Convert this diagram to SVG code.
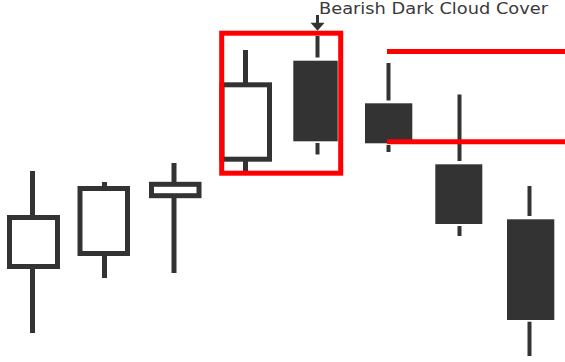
<svg xmlns="http://www.w3.org/2000/svg" width="565" height="362" viewBox="0 0 565 362">
<style>
.w{stroke:#333;stroke-width:5;stroke-linecap:butt;fill:none}
.dw{stroke:#333;stroke-width:4;stroke-linecap:butt;fill:none}
.ob{fill:#fff;stroke:#333;stroke-width:5}
.fb{fill:#333}
.red{stroke:#ff0000;stroke-width:5;fill:none}
.lbl{font-family:"DejaVu Sans",Verdana,sans-serif;font-size:15px;fill:#3a3a3a}
</style>
<rect width="565" height="362" fill="#fff"/>
<g id="candle1">
<line class="w" x1="32.5" y1="171" x2="32.5" y2="333"/>
<rect class="ob" x="9.5" y="217.5" width="48" height="49"/>
</g>
<g id="candle2">
<line class="w" x1="104.5" y1="182" x2="104.5" y2="278"/>
<rect class="ob" x="80" y="188.5" width="47.5" height="65"/>
</g>
<g id="candle3">
<line class="w" x1="174" y1="163" x2="174" y2="273"/>
<rect class="ob" x="151.5" y="184.3" width="47.5" height="11.4"/>
</g>
<g id="candle4">
<line class="w" x1="245.5" y1="50" x2="245.5" y2="171"/>
<rect class="ob" x="222" y="84.8" width="47.5" height="74.4"/>
</g>
<g id="candle5">
<line class="dw" x1="317.5" y1="36" x2="317.5" y2="57.5"/>
<line class="dw" x1="317.5" y1="143" x2="317.5" y2="154.5"/>
<rect class="fb" x="293.3" y="60.7" width="44.4" height="80.6"/>
</g>
<g id="candle6">
<line class="dw" x1="388.5" y1="63" x2="388.5" y2="100.5"/>
<line class="dw" x1="388.5" y1="145" x2="388.5" y2="152"/>
<rect class="fb" x="365" y="103.3" width="47.3" height="40"/>
</g>
<g id="candle7">
<line class="dw" x1="459.5" y1="94.5" x2="459.5" y2="161"/>
<line class="dw" x1="459.5" y1="226" x2="459.5" y2="236"/>
<rect class="fb" x="435.3" y="164.3" width="47" height="59.7"/>
</g>
<g id="candle8">
<line class="dw" x1="529.5" y1="186" x2="529.5" y2="216"/>
<line class="dw" x1="529.5" y1="321.7" x2="529.5" y2="356"/>
<rect class="fb" x="507" y="219.3" width="47.3" height="100.7"/>
</g>
<g id="highlight">
<rect class="red" x="221.7" y="33.2" width="119" height="140"/>
</g>
<g id="connectors">
<line class="red" x1="387" y1="51.5" x2="565" y2="51.5"/>
<line class="red" x1="387" y1="141.7" x2="565" y2="141.7"/>
<line x1="317.5" y1="15" x2="317.5" y2="24" stroke="#333" stroke-width="3"/>
<polygon points="310.5,22.7 324.5,22.7 317.5,30.7" fill="#333"/>
</g>
<g id="label">
<text class="lbl" x="319" y="13.5" textLength="229" lengthAdjust="spacingAndGlyphs">Bearish Dark Cloud Cover</text>
</g>
</svg>
